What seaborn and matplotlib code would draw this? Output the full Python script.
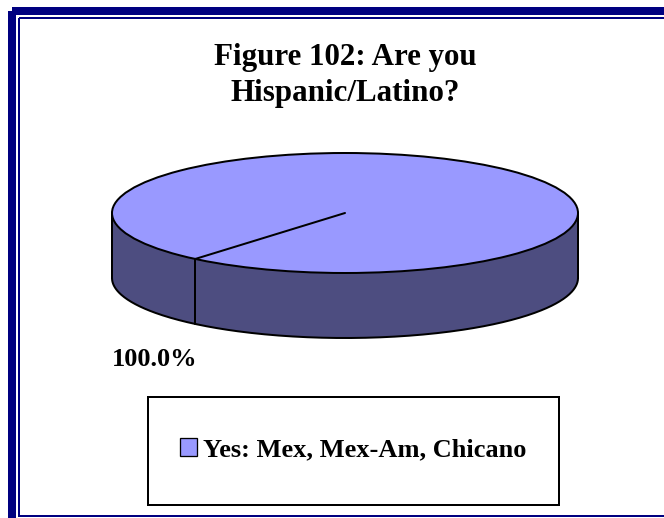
import numpy as np
import matplotlib
matplotlib.use("Agg")
import matplotlib.pyplot as plt
from matplotlib.patches import Rectangle, Polygon, Ellipse, Patch
import seaborn as sns

# ---- data ----
categories = ["Yes: Mex, Mex-Am, Chicano"]
values = [100.0]
title_lines = ["Figure 102: Are you", "Hispanic/Latino?"]

# ---- style ----
sns.set_theme(style="white")
plt.rcParams['font.family'] = ['Liberation Serif', 'DejaVu Serif']
plt.rcParams['text.color'] = 'black'
top_colors = ["#9999FF"]
side_colors = ["#4D4D80"]
navy = "#000080"

W, H = 664, 518
fig = plt.figure(figsize=(W / 100, H / 100), dpi=100)
ax = fig.add_axes([0, 0, 1, 1])
ax.set_xlim(0, W)
ax.set_ylim(H, 0)
ax.axis("off")

px = 0.72  # points per pixel at dpi 100

# frame
ax.add_patch(Rectangle((12, 11), 700, 530, fill=False, edgecolor=navy, lw=8 * px, zorder=1))
ax.add_patch(Rectangle((19, 18), 700, 498, fill=False, edgecolor=navy, lw=2 * px, zorder=1))

# title
ax.text(345, 57, title_lines[0], ha="center", va="center", fontsize=22.3,
        fontweight="bold", color="black")
ax.text(345, 93, title_lines[1], ha="center", va="center", fontsize=22.3,
        fontweight="bold", color="black")

# 3D pie geometry
cx, cy, rx, ry, depth = 345, 213, 233, 60, 65
start = 230.0
lw = 2.0 * px

def pt(theta, dz=0.0):
    t = np.deg2rad(theta)
    return cx + rx * np.cos(t), cy - ry * np.sin(t) + dz

total = sum(values)
bounds = [start]
for v in values:
    bounds.append(bounds[-1] - v / total * 360.0)

# side faces (front half: 180..360 deg)
for i, v in enumerate(values):
    a0, a1 = bounds[i + 1], bounds[i]
    segs = []
    for shift in (-720, -360, 0, 360):
        lo, hi = max(a0 + shift, 180), min(a1 + shift, 360)
        if hi > lo:
            segs.append((lo, hi))
    for lo, hi in segs:
        th = np.linspace(lo, hi, 200)
        top = [pt(t) for t in th]
        bot = [pt(t, depth) for t in th[::-1]]
        ax.add_patch(Polygon(top + bot, closed=True, facecolor=side_colors[i],
                             edgecolor="none", zorder=2))
# side outline
th = np.linspace(180, 360, 300)
xs = [pt(t, depth)[0] for t in th]
ys = [pt(t, depth)[1] for t in th]
ax.plot(xs, ys, color="black", lw=lw, zorder=3)
ax.plot([cx - rx, cx - rx], [cy, cy + depth], color="black", lw=lw, zorder=3)
ax.plot([cx + rx, cx + rx], [cy, cy + depth], color="black", lw=lw, zorder=3)

# top face
if len(values) == 1:
    ax.add_patch(Ellipse((cx, cy), 2 * rx, 2 * ry, facecolor=top_colors[0],
                         edgecolor="black", lw=lw, zorder=4))
else:
    for i, v in enumerate(values):
        th = np.linspace(bounds[i], bounds[i + 1], 200)
        verts = [(cx, cy)] + [pt(t) for t in th]
        ax.add_patch(Polygon(verts, closed=True, facecolor=top_colors[i],
                             edgecolor="black", lw=lw, zorder=4))

# slice boundary lines
for b in (bounds[:1] if len(values) == 1 else bounds[:-1]):
    x1, y1 = pt(b)
    ax.plot([cx, x1], [cy, y1], color="black", lw=lw, zorder=5)
    if np.sin(np.deg2rad(b)) < 0:
        ax.plot([x1, x1], [y1, y1 + depth], color="black", lw=lw, zorder=5)

# percentage label
ax.text(155, 360, f"{values[0] / total * 100:.1f}%", ha="center", va="center",
        fontsize=19, fontweight="bold", color="black")

# legend
ax.add_patch(Rectangle((148, 397), 411, 108, fill=False, edgecolor="black", lw=2 * px, zorder=1))
handles = [Patch(facecolor=top_colors[i], edgecolor="black", lw=1.3 * px) for i in range(len(categories))]
leg = ax.legend(handles, categories, loc="center", bbox_to_anchor=((148 + 559) / 2 / W, 1 - 450 / H),
                bbox_transform=fig.transFigure, frameon=False,
                prop={"family": "Liberation Serif", "weight": "bold", "size": 19},
                handlelength=0.62, handleheight=0.65, handletextpad=0.25)
for t in leg.get_texts():
    t.set_color("black")

fig.savefig("out.png", dpi=100, facecolor="white")
